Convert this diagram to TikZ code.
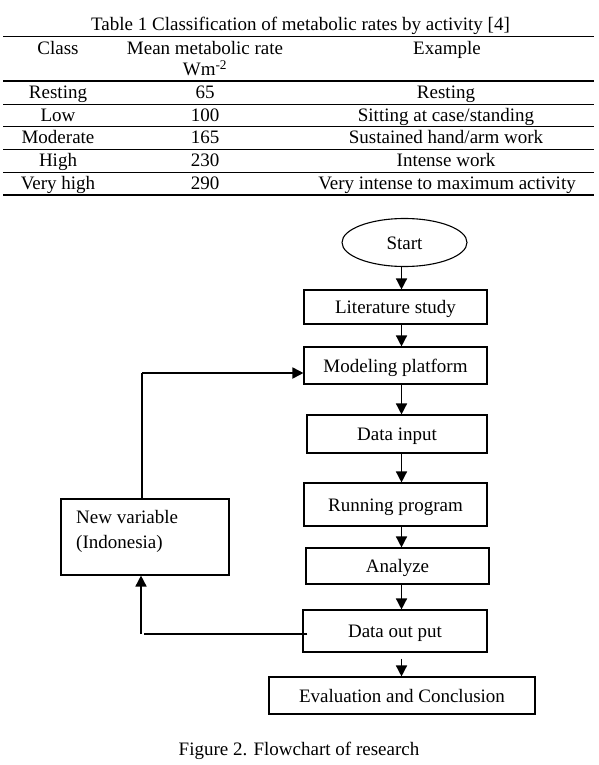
\documentclass[tikz,border=0pt]{standalone}
\usepackage{fontspec}
\setmainfont{Liberation Serif}
\usetikzlibrary{arrows.meta,shapes.geometric}
\tikzset{
  txt/.style={font=\fontsize{19}{23}\selectfont, inner sep=0pt, anchor=base},
  box/.style={draw, line width=1.1pt, rectangle, inner sep=0pt, font=\fontsize{19}{23}\selectfont, text height=13pt, text depth=0pt},
  rule/.style={line width=1.1pt},
  arr/.style={line width=1.4pt, -{Triangle[length=11pt,width=11pt]}},
  fbline/.style={line width=1.2pt}
}
\begin{document}
\begin{tikzpicture}[x=1pt,y=-1pt]
\useasboundingbox (0,0) rectangle (599,765);
% ---- table ----
\node[txt] (title) at (300.5,30.5) {Table 1 Classification of metabolic rates by activity [4]};
\coordinate (tl) at (3,36.7);
\coordinate (tr) at (594,36.7);
\draw[rule] (tl) -- (tr);
\draw[rule] (3,81) -- (594,81);
\draw[rule] (3,104.3) -- (594,104.3);
\draw[rule] (3,126.9) -- (594,126.9);
\draw[rule] (3,149.6) -- (594,149.6);
\draw[rule] (3,172.3) -- (594,172.3);
\draw[rule] (3,195) -- (594,195);
\node[txt] (hclass) at (58,54.5) {Class};
\node[txt] (hmean) at (205,54.5) {Mean metabolic rate};
\node[txt] (hunit) at (205,75.7) {Wm\textsuperscript{-2}};
\node[txt] (hex) at (447,54.5) {Example};
\node[txt] (c1) at (58,98.5) {Resting};
\node[txt] (m1) at (205,98.5) {65};
\node[txt] (e1) at (446,98.5) {Resting};
\node[txt] (c2) at (58,121.2) {Low};
\node[txt] (m2) at (205,121.2) {100};
\node[txt] (e2) at (446,121.2) {Sitting at case/standing};
\node[txt] (c3) at (58,143.9) {Moderate};
\node[txt] (m3) at (205,143.9) {165};
\node[txt] (e3) at (446,143.9) {Sustained hand/arm work};
\node[txt] (c4) at (58,166.6) {High};
\node[txt] (m4) at (205,166.6) {230};
\node[txt] (e4) at (446,166.6) {Intense work};
\node[txt] (c5) at (58,189.3) {Very high};
\node[txt] (m5) at (205,189.3) {290};
\node[txt] (e5) at (447,189.3) {Very intense to maximum activity};
% ---- flowchart ----
\node[box, ellipse, minimum width=125pt, minimum height=48pt] (start) at (404.5,242.5) {Start};
\node[box, minimum width=183pt, minimum height=34pt] (lit) at (395.5,307) {Literature study};
\node[box, minimum width=183pt, minimum height=37pt] (model) at (395.5,365.5) {Modeling platform};
\node[box, minimum width=180pt, minimum height=38pt] (din) at (397,434) {Data input};
\node[box, minimum width=183pt, minimum height=43pt] (run) at (395.5,504.5) {Running program};
\node[box, minimum width=183pt, minimum height=36pt] (ana) at (397.5,566) {Analyze};
\node[box, minimum width=184pt, minimum height=42pt] (dout) at (395,631) {Data out put};
\node[box, minimum width=266pt, minimum height=37pt] (eval) at (402,695.5) {Evaluation and Conclusion};
\node[box, minimum width=168pt, minimum height=76pt] (newvar) at (145,537) {};
\node[txt, anchor=base west] (nv1) at (76,523) {New variable};
\node[txt, anchor=base west] (nv2) at (76,548) {(Indonesia)};
\node[txt] (cap) at (299,755) {Figure 2. Flowchart of research};
% arrows
\coordinate (ax) at (401.5,0);
\draw[arr] (start.south -| ax) -- (lit.north -| ax);
\draw[arr] (lit.south -| ax) -- (model.north -| ax);
\draw[arr] (model.south -| ax) -- (din.north -| ax);
\draw[arr] (din.south -| ax) -- (run.north -| ax);
\draw[arr] (run.south -| ax) -- (ana.north -| ax);
\draw[arr] (ana.south -| ax) -- (dout.north -| ax);
\draw[arr] ([yshift=-6pt]dout.south -| ax) -- (eval.north -| ax);
% feedback
\coordinate (fb) at (141,634);
\draw[fbline] ([xshift=5pt]dout.west |- fb) -- ([xshift=3pt]fb);
\draw[arr, line width=1.6pt] (fb) -- (fb |- newvar.south);
\coordinate (tp) at (142,373);
\draw[fbline] (newvar.north -| tp) -- (tp);
\draw[arr, line width=1.8pt] (tp) -- (tp -| model.west);
\end{tikzpicture}
\end{document}
